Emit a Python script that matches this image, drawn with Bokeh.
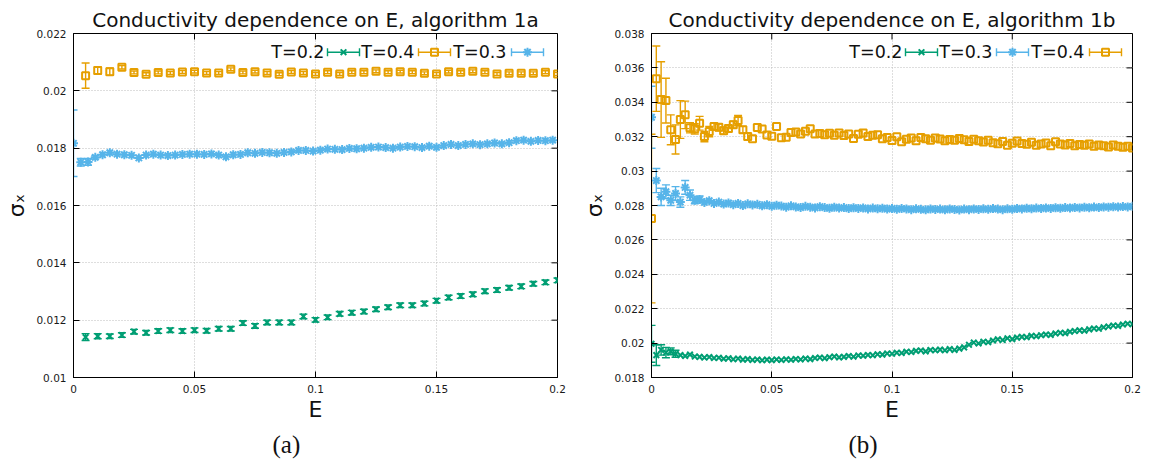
import numpy as np
from bokeh.plotting import figure
from bokeh.models import (ColumnDataSource, Whisker, TeeHead, Label, FixedTicker, Range1d, Title)
from bokeh.layouts import row
from bokeh.embed import file_html
from bokeh.resources import INLINE

FONT = "DejaVu Sans"
GREEN, ORANGE, BLUE = "#009e73", "#e69f00", "#56b4e9"

# ---------------- ticks ----------------
x_ticks = [0, 0.05, 0.1, 0.15, 0.2]
x_tick_labels = ["0", "0.05", "0.1", "0.15", "0.2"]
ya_ticks = [0.01, 0.012, 0.014, 0.016, 0.018, 0.02, 0.022]
ya_tick_labels = ["0.01", "0.012", "0.014", "0.016", "0.018", "0.02", "0.022"]
yb_ticks = [0.018, 0.02, 0.022, 0.024, 0.026, 0.028, 0.03, 0.032, 0.034, 0.036, 0.038]
yb_tick_labels = ["0.018", "0.02", "0.022", "0.024", "0.026", "0.028", "0.03",
                  "0.032", "0.034", "0.036", "0.038"]

# ---------------- panel (a) data ----------------
E_a_coarse = np.round(np.arange(1, 41) * 0.005, 4)          # T=0.2, T=0.4 grid
E_a_fine = np.round(np.arange(0, 67) * 0.003, 4)            # T=0.3 grid

a_T02 = [0.01141, 0.01144, 0.01144, 0.01148, 0.01160, 0.01156, 0.01162, 0.01165, 0.01162, 0.01165,
         0.01163, 0.01170, 0.01170, 0.01190, 0.01180, 0.01192, 0.01192, 0.01192, 0.01213, 0.01201,
         0.01210, 0.01222, 0.01226, 0.01230, 0.01238, 0.01245, 0.01252, 0.01252, 0.01258, 0.01268,
         0.01279, 0.01284, 0.01290, 0.01301, 0.01305, 0.01313, 0.01318, 0.01327, 0.01332, 0.01339]
a_T02_err = [0.00012, 0.00009, 0.00008, 0.00008, 0.00008, 0.00008, 0.00008, 0.00008, 0.00008, 0.00008,
             0.00008, 0.00008, 0.00008, 0.00008, 0.00008, 0.00008, 0.00008, 0.00008, 0.00008, 0.00008,
             0.00008, 0.00008, 0.00008, 0.00008, 0.00008, 0.00008, 0.00008, 0.00008, 0.00008, 0.00008,
             0.00008, 0.00008, 0.00008, 0.00008, 0.00008, 0.00008, 0.00008, 0.00008, 0.00008, 0.00008]

a_T04 = [0.02053, 0.02071, 0.02067, 0.02082, 0.02064, 0.02058, 0.02064, 0.02062, 0.02066, 0.02067,
         0.02062, 0.02062, 0.02075, 0.02064, 0.02067, 0.02062, 0.02058, 0.02066, 0.02062, 0.02059,
         0.02065, 0.02059, 0.02065, 0.02065, 0.02068, 0.02065, 0.02067, 0.02065, 0.02061, 0.02059,
         0.02067, 0.02065, 0.02068, 0.02065, 0.02059, 0.02061, 0.02061, 0.02061, 0.02065, 0.02059]
a_T04_err = [0.00044, 0.00013, 0.00013, 0.00006, 0.00005, 0.00005, 0.00005, 0.00005, 0.00005, 0.00005,
             0.00005, 0.00005, 0.00005, 0.00005, 0.00005, 0.00005, 0.00005, 0.00005, 0.00005, 0.00005,
             0.00005, 0.00005, 0.00005, 0.00005, 0.00005, 0.00005, 0.00005, 0.00005, 0.00005, 0.00005,
             0.00005, 0.00005, 0.00005, 0.00005, 0.00005, 0.00005, 0.00005, 0.00005, 0.00005, 0.00005]

a_T03 = [0.01817, 0.01751, 0.01752, 0.01768, 0.01777, 0.01784, 0.01779, 0.01777, 0.01775, 0.01766,
         0.01776, 0.01779, 0.01776, 0.01774, 0.01776, 0.01778, 0.01779, 0.01779, 0.01778, 0.01780,
         0.01776, 0.01770, 0.01777, 0.01778, 0.01784, 0.01782, 0.01785, 0.01784, 0.01782, 0.01785,
         0.01787, 0.01792, 0.01792, 0.01790, 0.01793, 0.01797, 0.01796, 0.01795, 0.01799, 0.01798,
         0.01800, 0.01803, 0.01804, 0.01802, 0.01800, 0.01804, 0.01806, 0.01805, 0.01802, 0.01807,
         0.01803, 0.01809, 0.01813, 0.01809, 0.01813, 0.01815, 0.01812, 0.01815, 0.01818, 0.01815,
         0.01819, 0.01826, 0.01828, 0.01824, 0.01827, 0.01826, 0.01828]
a_T03_err_head = [0.00116, 0.00013, 0.00012, 0.00006]

# ---------------- panel (b) data ----------------
E_b = np.round(np.arange(0, 101) * 0.002, 4)

b_T02 = [0.01996, 0.01930, 0.01960, 0.01945, 0.01952, 0.01938, 0.01930, 0.01925, 0.01933, 0.01922,
         0.01920, 0.01916, 0.01919, 0.01913, 0.01915, 0.01909, 0.01912, 0.01906, 0.01910, 0.01904,
         0.01907, 0.01902, 0.01905, 0.01900, 0.01904, 0.01901, 0.01905, 0.01902, 0.01906, 0.01903,
         0.01908, 0.01905, 0.01910, 0.01907, 0.01913, 0.01916, 0.01912, 0.01918, 0.01922, 0.01917,
         0.01920, 0.01925, 0.01921, 0.01928, 0.01926, 0.01931, 0.01929, 0.01935, 0.01933, 0.01940,
         0.01938, 0.01944, 0.01942, 0.01950, 0.01948, 0.01955, 0.01957, 0.01952, 0.01960, 0.01958,
         0.01962, 0.01958, 0.01965, 0.01960, 0.01968, 0.01975, 0.01990, 0.02003, 0.01998, 0.02008,
         0.02005, 0.02015, 0.02022, 0.02018, 0.02028, 0.02023, 0.02032, 0.02036, 0.02034, 0.02042,
         0.02040, 0.02046, 0.02050, 0.02048, 0.02056, 0.02060, 0.02058, 0.02066, 0.02070, 0.02074,
         0.02072, 0.02080, 0.02085, 0.02083, 0.02092, 0.02096, 0.02102, 0.02100, 0.02108, 0.02113,
         0.02110]
b_T02_err_head = [0.00107, 0.0006, 0.0003, 0.0003, 0.0002, 0.0002]

b_T03 = [0.03313, 0.02945, 0.02850, 0.02880, 0.02830, 0.02870, 0.02820, 0.02905, 0.02860, 0.02830,
         0.02835, 0.02818, 0.02828, 0.02812, 0.02820, 0.02808, 0.02815, 0.02805, 0.02812, 0.02800,
         0.02810, 0.02803, 0.02807, 0.02798, 0.02805, 0.02795, 0.02802, 0.02797, 0.02790, 0.02798,
         0.02792, 0.02788, 0.02795, 0.02790, 0.02786, 0.02793, 0.02788, 0.02784, 0.02790, 0.02785,
         0.02788, 0.02782, 0.02787, 0.02783, 0.02786, 0.02780, 0.02785, 0.02781, 0.02784, 0.02779,
         0.02783, 0.02778, 0.02782, 0.02780, 0.02776, 0.02781, 0.02778, 0.02775, 0.02780, 0.02777,
         0.02779, 0.02775, 0.02780, 0.02777, 0.02774, 0.02779, 0.02776, 0.02780, 0.02777, 0.02781,
         0.02778, 0.02782, 0.02779, 0.02776, 0.02781, 0.02778, 0.02783, 0.02780, 0.02784, 0.02781,
         0.02785, 0.02782, 0.02786, 0.02783, 0.02787, 0.02784, 0.02788, 0.02785, 0.02789, 0.02786,
         0.02790, 0.02787, 0.02791, 0.02788, 0.02792, 0.02790, 0.02793, 0.02791, 0.02794, 0.02792,
         0.02795]
b_T03_err_head = [0.0018, 0.0007, 0.0005, 0.0004, 0.0003, 0.0004, 0.0003, 0.0004, 0.0003, 0.0002, 0.0002]

b_T04 = [0.02724, 0.03537, 0.03416, 0.03410, 0.03240, 0.03184, 0.03300, 0.03327, 0.03252, 0.03246,
         0.03278, 0.03201, 0.03230, 0.03259, 0.03255, 0.03235, 0.03247, 0.03270, 0.03294, 0.03240,
         0.03201, 0.03188, 0.03253, 0.03245, 0.03210, 0.03203, 0.03259, 0.03194, 0.03197, 0.03225,
         0.03228, 0.03215, 0.03232, 0.03246, 0.03215, 0.03218, 0.03212, 0.03220, 0.03209, 0.03221,
         0.03207, 0.03215, 0.03190, 0.03214, 0.03222, 0.03201, 0.03208, 0.03212, 0.03188, 0.03195,
         0.03178, 0.03200, 0.03170, 0.03185, 0.03192, 0.03176, 0.03196, 0.03188, 0.03180, 0.03193,
         0.03187, 0.03176, 0.03183, 0.03179, 0.03190, 0.03182, 0.03172, 0.03185, 0.03177, 0.03169,
         0.03180, 0.03165, 0.03159, 0.03172, 0.03150, 0.03162, 0.03175, 0.03160, 0.03156, 0.03168,
         0.03150, 0.03158, 0.03163, 0.03148, 0.03170, 0.03158, 0.03152, 0.03160, 0.03147, 0.03155,
         0.03150, 0.03158, 0.03145, 0.03152, 0.03148, 0.03140, 0.03152, 0.03144, 0.03138, 0.03145,
         0.03135]
b_T04_err_head = [0.0049, 0.0019, 0.0022, 0.0013, 0.00087, 0.00085, 0.0011, 0.0008, 0.0003, 0.0003,
                  0.0004, 0.0003, 0.0003, 0.0002, 0.0002, 0.0002, 0.0002, 0.0002, 0.0003, 0.0002, 0.0002]

MARK = {"T=0.2": dict(marker="x", size=8, line_width=2.0, fill_color=None),
        "T=0.3": dict(marker="asterisk", size=9, line_width=2.0, fill_color=None),
        "T=0.4": dict(marker="square", size=7, line_width=2.0, fill_color=None)}
COLOR = {"T=0.2": GREEN, "T=0.3": BLUE, "T=0.4": ORANGE}

H = 468
TOP, BOTTOM = 33, 91
FH = H - TOP - BOTTOM
TICK = 6


def whisker(p, xs, ys, errs, color, dim="height"):
    xs = list(xs)[:len(errs)]
    ys = list(ys)[:len(errs)]
    src = ColumnDataSource(dict(base=xs,
                                lo=[y - e for y, e in zip(ys, errs)],
                                hi=[y + e for y, e in zip(ys, errs)]))
    w = Whisker(source=src, base="base", lower="lo", upper="hi", dimension=dim,
                line_color=color, line_width=1.4,
                lower_head=TeeHead(size=8, line_color=color, line_width=1.4),
                upper_head=TeeHead(size=8, line_color=color, line_width=1.4))
    p.add_layout(w)


def make_panel(title, caption, ylo, yhi, yticks, ylabels, series, width, bl, br, cap_left):
    FW = width - bl - br
    p = figure(width=width, height=H, x_range=Range1d(0, 0.2), y_range=Range1d(ylo, yhi),
               output_backend="svg", toolbar_location=None,
               min_border_left=bl, min_border_right=br, min_border_top=TOP, min_border_bottom=BOTTOM)
    p.background_fill_color = "white"
    p.border_fill_color = "white"
    p.outline_line_color = "black"
    p.outline_line_width = 1

    p.title.text = title
    p.title.align = "center"
    p.title.vertical_align = "top"
    p.title.text_font = FONT
    p.title.text_font_size = "20px"
    p.title.text_font_style = "normal"
    p.title.text_color = "#111111"
    p.title.standoff = 0

    xt = FixedTicker(ticks=x_ticks)
    yt = FixedTicker(ticks=yticks)
    p.xaxis.ticker = xt
    p.yaxis.ticker = yt
    p.xgrid.ticker = xt
    p.ygrid.ticker = yt
    p.xaxis.major_label_overrides = dict(zip(x_ticks, x_tick_labels))
    p.yaxis.major_label_overrides = dict(zip(yticks, ylabels))
    for ax in (p.xaxis[0], p.yaxis[0]):
        ax.major_tick_in = TICK
        ax.major_tick_out = 0
        ax.minor_tick_in = 0
        ax.minor_tick_out = 0
        ax.axis_line_color = "black"
        ax.major_tick_line_color = "black"
        ax.major_label_text_font = FONT
        ax.major_label_text_font_size = "10.5px"
        ax.major_label_text_color = "#1a1a1a"
        ax.axis_label_text_font = FONT
        ax.axis_label_text_font_style = "normal"
        ax.axis_label_text_color = "#111111"
    p.yaxis.major_label_standoff = 7
    p.xaxis.major_label_standoff = 7
    p.xaxis.axis_label = "E"
    p.xaxis.axis_label_text_font_size = "22px"
    p.xaxis.axis_label_standoff = 1
    p.yaxis.axis_label = "σₓ"
    p.yaxis.axis_label_text_font_size = "22px"
    p.yaxis.axis_label_standoff = 4

    # caption
    p.add_layout(Title(text=caption, align="left", offset=cap_left, text_font="Liberation Serif",
                       text_font_size="25px", text_font_style="normal", text_color="#111111",
                       standoff=8), "below")

    p.grid.grid_line_color = "#bdbdbd"
    p.grid.grid_line_dash = "1 2"
    p.grid.grid_line_width = 1

    # mirrored ticks on top and right edges
    dyt = TICK / FH * (yhi - ylo)
    dxt = TICK / FW * 0.2
    p.segment(x0=x_ticks, x1=x_ticks, y0=[yhi] * len(x_ticks), y1=[yhi - dyt] * len(x_ticks),
              line_color="black", line_width=1)
    p.segment(x0=[0.2] * len(yticks), x1=[0.2 - dxt] * len(yticks), y0=yticks, y1=yticks,
              line_color="black", line_width=1)

    for name, xs, ys, errs in series:
        c = COLOR[name]
        if errs is not None:
            whisker(p, xs, ys, errs, c)
        p.scatter(list(xs), ys, line_color=c, **MARK[name])

    # legend (gnuplot style: text, then sample)
    def dx(px):
        return px / FW * 0.2

    def dy(py):
        return yhi - py / FH * (yhi - ylo)

    ly = dy(18.7)
    text_right = [251, 341, 433]
    samples = [(254, 286), (345, 377), (438, 470)]
    for k, (name, _, _, _) in enumerate(series):
        c = COLOR[name]
        p.add_layout(Label(x=dx(text_right[k]), y=ly, text=name, text_align="right",
                           text_baseline="middle", text_font=FONT, text_font_size="17.5px",
                           text_color="#111111"))
        l, r = samples[k]
        whisker(p, [ly], [0.5 * (dx(l) + dx(r))], [0.5 * (dx(r) - dx(l))], c, dim="width")
        p.scatter([0.5 * (dx(l) + dx(r))], [ly], line_color=c, **MARK[name])
    return p


pa = make_panel("Conductivity dependence on E, algorithm 1a", "(a)", 0.01, 0.022,
                ya_ticks, ya_tick_labels,
                [("T=0.2", E_a_coarse, a_T02, a_T02_err),
                 ("T=0.4", E_a_coarse, a_T04, a_T04_err),
                 ("T=0.3", E_a_fine, a_T03, a_T03_err_head)],
                579, 73, 22, 199)

pb = make_panel("Conductivity dependence on E, algorithm 1b", "(b)", 0.018, 0.038,
                yb_ticks, yb_tick_labels,
                [("T=0.2", E_b, b_T02, b_T02_err_head),
                 ("T=0.3", E_b, b_T03, b_T03_err_head),
                 ("T=0.4", E_b, b_T04, b_T04_err_head)],
                573, 72, 20, 197)

layout = row(pa, pb)
open("out.html", "w").write(file_html(layout, INLINE))
